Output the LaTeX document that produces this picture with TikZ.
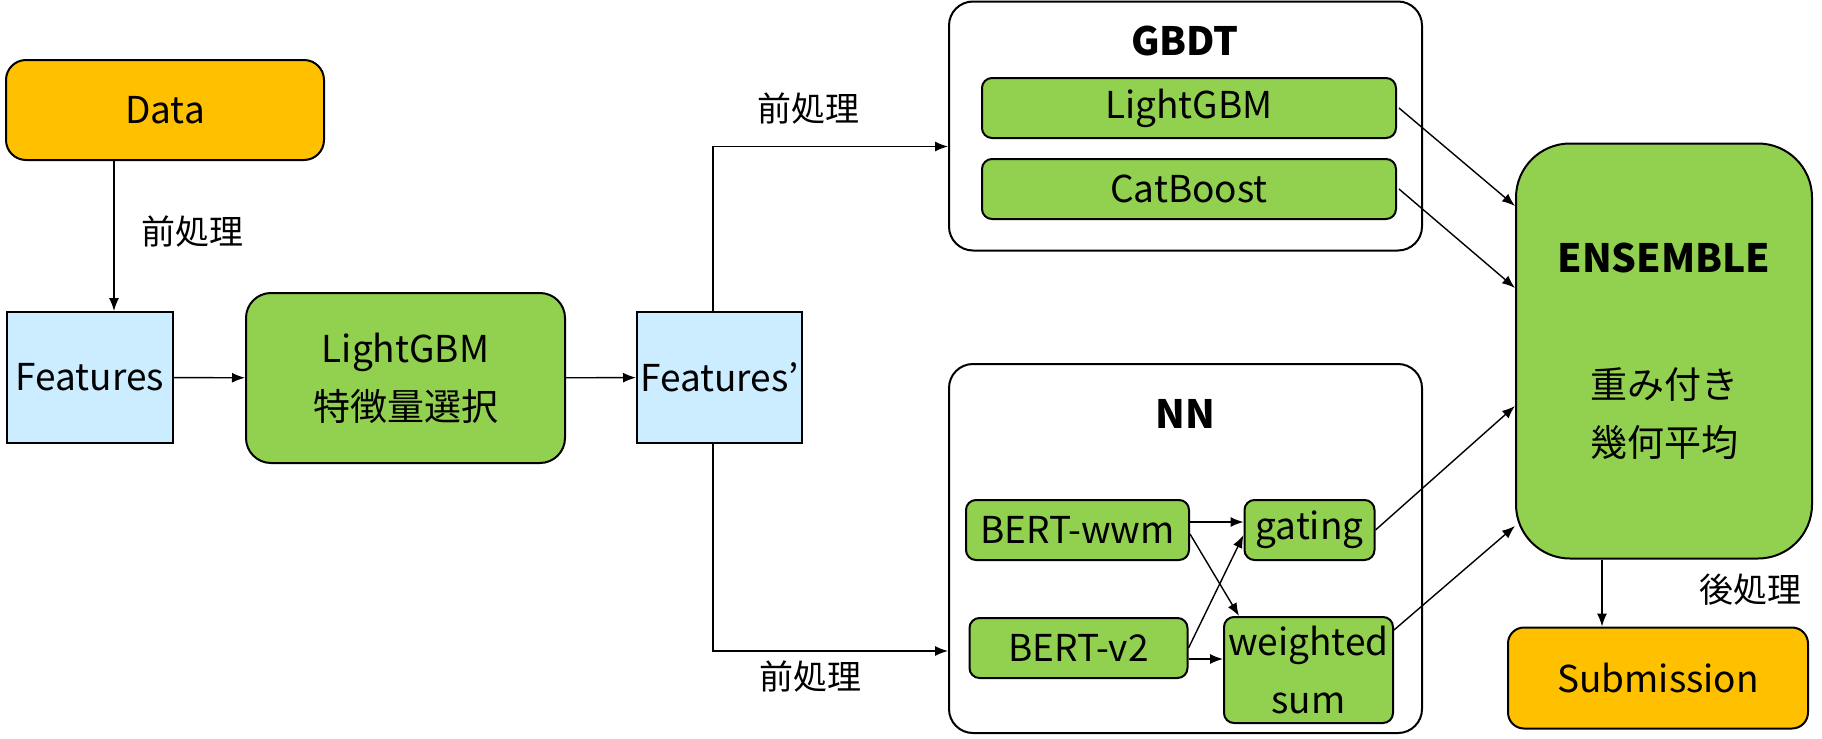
\documentclass[tikz,border=0pt]{standalone}
\usepackage{fontspec}
\setmainfont{Noto Sans CJK JP}
\usepackage{tikz}
\usetikzlibrary{arrows.meta}
\definecolor{dataorange}{HTML}{FFC000}
\definecolor{boxgreen}{HTML}{92D050}
\definecolor{featblue}{HTML}{CCECFF}
\tikzset{
    box/.style={draw,line width=1pt,align=center,inner sep=0pt,font=\fontsize{18.5}{29}\selectfont},
    databox/.style={box,fill=dataorange,rounded corners=10pt},
    featbox/.style={box,fill=featblue},
    model/.style={box,fill=boxgreen,rounded corners=5pt},
    group/.style={box,rounded corners=12pt},
    title/.style={font=\fontsize{19.5}{22}\selectfont\bfseries},
    lbl/.style={font=\fontsize{17}{20}\selectfont},
    edge/.style={->,> = {Latex[length=6.5pt,width=5pt]},line width=0.7pt}
}

\begin{document}
\begin{tikzpicture}[x=0.5pt,y=-0.5pt]
\useasboundingbox (0,0) rectangle (1822,739);

\node[databox,minimum width=159pt,minimum height=50pt] (data) at (165,110) {Data};
\node[featbox,minimum width=83pt,minimum height=65.5pt] (feat) at (90,377.5) {Features};
\node[box,fill=boxgreen,rounded corners=12.5pt,minimum width=159.5pt,minimum height=85pt] (lgbsel) at (405.5,378) {LightGBM\\特徴量選択};
\node[featbox,minimum width=82.5pt,minimum height=65.5pt] (featp) at (719.5,377.5) {Features’};

\node[group,minimum width=236.5pt,minimum height=124.5pt] (gbdt) at (1185.5,126) {};
\node[title] (gbdtlbl) at (1185,41) {GBDT};
\node[model,minimum width=207pt,minimum height=30pt] (lgb) at (1189,108) {LightGBM};
\node[model,minimum width=207pt,minimum height=30pt] (cat) at (1189,189) {CatBoost};

\node[group,minimum width=236.5pt,minimum height=184.5pt] (nn) at (1185.5,548.5) {};
\node[title] (nnlbl) at (1185,413.5) {NN};
\node[model,minimum width=111.5pt,minimum height=30pt] (wwm) at (1077.5,530) {BERT-wwm};
\node[model,minimum width=65pt,minimum height=30pt] (gate) at (1309.5,530) {gating};
\node[model,minimum width=109pt,minimum height=30pt] (v2) at (1078.5,648) {BERT-v2};
\node[model,minimum width=84.5pt,minimum height=53pt] (wsum) at (1308.5,670) {weighted\\sum};

\node[box,fill=boxgreen,rounded corners=27pt,minimum width=148pt,minimum height=207.5pt] (ens) at (1664,351) {{\fontsize{19.5}{22}\selectfont\bfseries ENSEMBLE}\\[34pt]重み付き\\幾何平均};
\node[databox,rounded corners=8pt,minimum width=150pt,minimum height=50.5pt] (sub) at (1658,678) {Submission};

\node[lbl] (pre1) at (192,232) {前処理};
\node[lbl] (pre2) at (808,109) {前処理};
\node[lbl] (pre3) at (810,677) {前処理};
\node[lbl] (post) at (1750,590) {後処理};

\path ([xshift=12pt]feat.north) coordinate (dfin);
\draw[edge] (data.south -| dfin) -- (dfin);
\draw[edge] (feat) -- (lgbsel);
\draw[edge] (lgbsel) -- (featp);
\draw[edge] ([xshift=-3.25pt]featp.north) |- ([yshift=-10.25pt]gbdt.west);
\draw[edge] ([xshift=-3.25pt]featp.south) |- ([yshift=-51.25pt]nn.west);

\draw[edge] ([xshift=1pt]lgb.east) -- ([yshift=72.5pt]ens.west);
\draw[edge] ([xshift=1pt]cat.east) -- ([yshift=31.5pt]ens.west);
\draw[edge] (gate.east) -- ([yshift=-27.5pt]ens.west);
\draw[edge] ([yshift=20pt]wsum.east) -- ([yshift=-87.5pt]ens.west);

\draw[edge] ([yshift=4pt]wwm.east) -- ([yshift=4pt]gate.west);
\draw[edge] ([yshift=-2pt]wwm.east) -- ([xshift=8pt]wsum.north west);
\draw[edge] (v2.east) -- ([yshift=-2.5pt]gate.west);
\draw[edge] ([yshift=-5.5pt]v2.east) coordinate (v2out) -- (v2out -| wsum.west);

\path ([xshift=-28pt]sub.north) coordinate (subin);
\draw[edge] (ens.south -| subin) -- (subin);

\end{tikzpicture}
\end{document}
